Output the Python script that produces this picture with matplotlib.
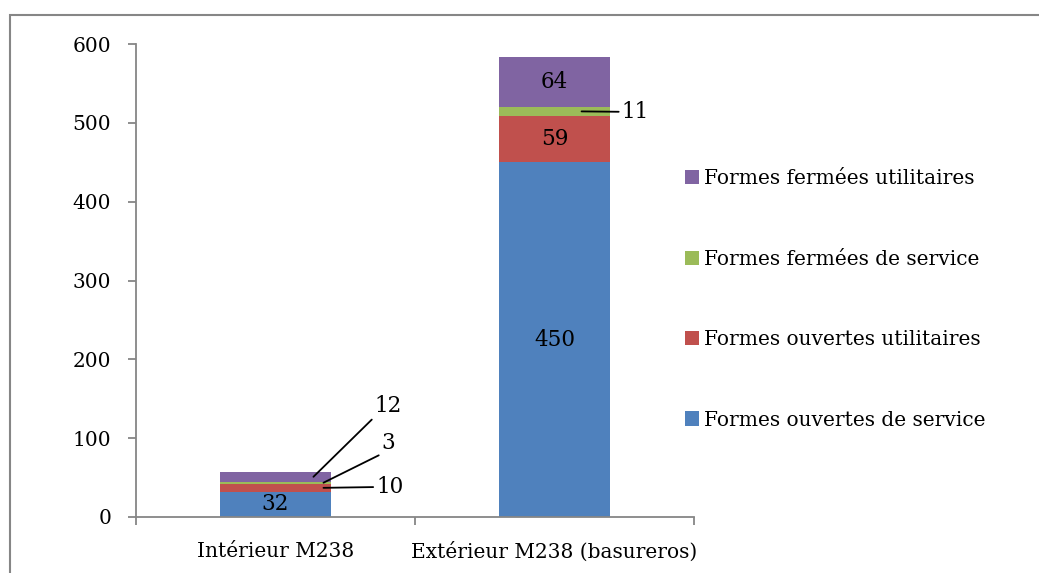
import numpy as np
import matplotlib
matplotlib.use('Agg')
import matplotlib.pyplot as plt
from matplotlib.patches import Rectangle

plt.rcParams['font.family'] = ['DejaVu Serif']

# counts per location, stacked bottom to top
locations = ['Intérieur M238', 'Extérieur M238 (basureros)']
series = ['Formes ouvertes de service', 'Formes ouvertes utilitaires',
          'Formes fermées de service', 'Formes fermées utilitaires']
ouv_service = [32, 450]
ouv_util = [10, 59]
ferm_service = [3, 11]
ferm_util = [12, 64]
colors = ['#4F81BD', '#C0504D', '#9BBB59', '#8064A2']
grey = '#868686'
fs = 14.5

fig = plt.figure(figsize=(10.39, 5.73), dpi=100)
ax = fig.add_axes([136/1039, 1 - 517/573, (694 - 136)/1039, (517 - 44)/573])

# chart area frame (only top/left visible)
fig.patches.append(Rectangle((10/1039, -0.2), 1.2, 1.2 - 15/573, transform=fig.transFigure,
                             fill=False, edgecolor=grey, linewidth=1.5, clip_on=False))

x = np.arange(len(locations))
bottom = np.zeros(len(locations))
bars = []
for vals, name, c in zip([ouv_service, ouv_util, ferm_service, ferm_util], series, colors):
    b = ax.bar(x, vals, 0.4, bottom=bottom, color=c, label=name, zorder=2)
    bars.append(b)
    bottom += np.array(vals)

# labels inside the segments that are tall enough
ax.bar_label(bars[0], labels=[str(v) for v in ouv_service], label_type='center', fontsize=fs + 1)
ax.bar_label(bars[1], labels=['', str(ouv_util[1])], label_type='center', fontsize=fs + 1)
ax.bar_label(bars[3], labels=['', str(ferm_util[1])], label_type='center', fontsize=fs + 1)

# leader lines for the thin segments
lp = dict(arrowstyle='-', color='black', lw=1.3, shrinkA=0, shrinkB=0)
ax.annotate(str(ferm_util[0]), xy=(0.136, ouv_service[0] + ouv_util[0] + ferm_service[0] + ferm_util[0] / 2),
            xytext=(0.355, 127), ha='left', va='bottom', fontsize=fs + 1,
            arrowprops=dict(lp, relpos=(0, 0)))
ax.annotate(str(ferm_service[0]), xy=(0.172, ouv_service[0] + ouv_util[0] + ferm_service[0] / 2),
            xytext=(0.38, 80), ha='left', va='bottom', fontsize=fs + 1,
            arrowprops=dict(lp, relpos=(0, 0)))
ax.annotate(str(ouv_util[0]), xy=(0.172, ouv_service[0] + ouv_util[0] / 2),
            xytext=(0.36, 38), ha='left', va='center', fontsize=fs + 1,
            arrowprops=dict(lp, relpos=(0, 0.5)))
ax.annotate(str(ferm_service[1]), xy=(1.097, ouv_service[1] + ouv_util[1] + ferm_service[1] / 2),
            xytext=(1.24, 514), ha='left', va='center', fontsize=fs + 1,
            arrowprops=dict(lp, relpos=(0, 0.5)))

ax.set_xlim(-0.5, 1.5)
ax.set_ylim(0, 600)
ax.set_yticks(np.arange(0, 601, 100))
ax.set_xticks(x)
ax.set_xticklabels(locations, fontsize=fs)
ax.set_xticks([-0.5, 0.5, 1.5], minor=True)
ax.tick_params(axis='x', which='major', length=0, pad=18)
ax.tick_params(axis='x', which='minor', length=6, width=1.3, color=grey, direction='out')
ax.tick_params(axis='y', length=6, width=1.3, color=grey, labelsize=fs, pad=12)

for s in ['top', 'right']:
    ax.spines[s].set_visible(False)
for s in ['left', 'bottom']:
    ax.spines[s].set_color(grey)
    ax.spines[s].set_linewidth(1.3)

h, l = ax.get_legend_handles_labels()
ax.legend(h[::-1], l[::-1], loc='center left', bbox_to_anchor=(0.952, 0.46),
          frameon=False, fontsize=fs, handlelength=0.7, handleheight=0.7,
          handletextpad=0.25, labelspacing=3.05)

fig.savefig('out.png', dpi=100)
